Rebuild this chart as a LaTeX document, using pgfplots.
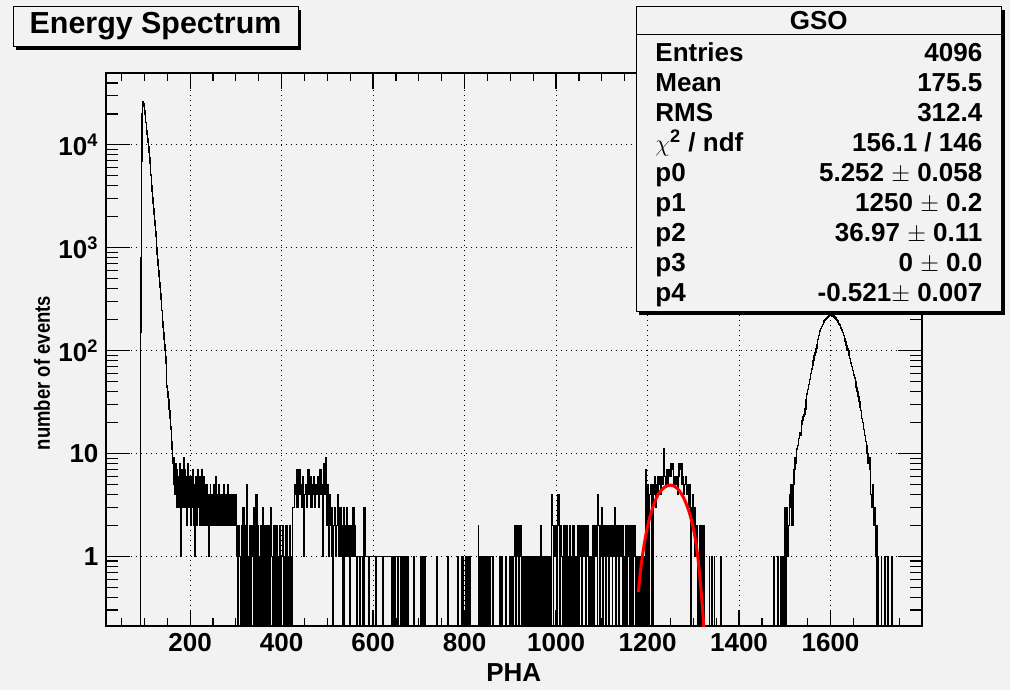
\documentclass[border=0pt]{standalone}
\usepackage{pgfplots}
\pgfplotsset{compat=1.18}
\usepackage{pgfplotstable}
\usepackage{graphicx}
\usepackage{fontspec}
\setmainfont{Liberation Sans}
\definecolor{bg}{RGB}{242,242,242}
\definecolor{rootred}{RGB}{255,0,0}
\newcommand\tf{\fontsize{13}{15}\selectfont\bfseries}

\pgfplotstableread[row sep=\\]{
x n\\
15 0\\ 91 40\\ 92 150\\ 93 800\\ 94 7000\\ 95 20000\\ 96 26000\\ 97 26500\\ 98 25000\\ 99 23500\\
100 21500\\ 101 19800\\ 102 18300\\ 103 16500\\ 104 15200\\ 105 13700\\ 106 12600\\ 107 11400\\ 108 10500\\ 109 9600\\
110 8500\\ 111 7500\\ 112 6600\\ 113 5800\\ 114 5100\\ 115 4500\\ 116 4000\\ 117 3500\\ 118 3100\\ 119 2700\\
120 2400\\ 121 2100\\ 122 1850\\ 123 1650\\ 124 1440\\ 125 1280\\ 126 1120\\ 127 990\\ 128 870\\ 129 770\\
130 680\\ 131 600\\ 132 525\\ 133 460\\ 134 410\\ 135 360\\ 136 315\\ 137 280\\ 138 245\\ 139 215\\
140 190\\ 141 168\\ 142 148\\ 143 130\\ 144 115\\ 145 101\\ 146 88\\ 147 75\\ 148 62\\ 149 44\\
150 46\\ 151 40\\ 152 35\\ 153 33\\ 154 27\\ 155 26\\ 156 22\\ 157 18\\ 158 17\\ 159 13\\
160 11\\ 161 9\\ 162 8\\ 163 6\\ 164 9\\ 165 5\\
166 7\\ 167 4\\ 168 8\\ 169 5\\ 170 6\\ 171 3\\ 172 7\\ 173 4\\ 174 6\\ 175 5\\ 176 3\\ 177 8\\ 178 4\\ 179 6\\ 180 1\\ 181 5\\ 182 7\\ 183 3\\ 184 6\\ 185 4\\
186 9\\ 187 5\\ 188 3\\ 189 7\\ 190 4\\ 191 6\\ 192 2\\ 193 5\\ 194 4\\ 195 8\\ 196 3\\ 197 5\\ 198 4\\ 199 6\\ 200 3\\
201 5\\ 202 2\\ 203 6\\ 204 4\\ 205 3\\ 206 7\\ 207 4\\ 208 2\\ 209 5\\ 210 1\\ 211 4\\ 212 6\\ 213 3\\ 214 5\\ 215 2\\ 216 7\\ 217 4\\ 218 3\\ 219 5\\ 220 2\\
221 6\\ 222 3\\ 223 4\\ 224 2\\ 225 7\\ 226 3\\ 227 5\\ 228 2\\ 229 4\\ 230 6\\ 231 3\\ 232 2\\ 233 5\\ 234 3\\ 235 4\\ 236 2\\ 237 5\\ 238 3\\ 239 2\\ 240 1\\
241 4\\ 242 2\\ 243 3\\ 244 5\\ 245 2\\ 246 4\\ 247 3\\ 248 2\\ 249 4\\ 250 2\\ 251 3\\ 252 5\\ 253 2\\ 254 3\\ 255 4\\ 256 2\\ 257 6\\ 258 3\\ 259 2\\ 260 4\\
261 3\\ 262 2\\ 263 5\\ 264 2\\ 265 3\\ 266 4\\ 267 2\\ 268 3\\ 269 2\\ 270 4\\ 271 3\\ 272 2\\ 273 5\\ 274 2\\ 275 3\\ 276 2\\ 277 4\\ 278 3\\ 279 2\\ 280 4\\
281 2\\ 282 3\\ 283 5\\ 284 2\\ 285 3\\ 286 2\\ 287 4\\ 288 2\\ 289 3\\ 290 2\\ 291 4\\ 292 3\\ 293 2\\ 294 3\\ 295 2\\ 296 4\\ 297 2\\ 298 3\\ 299 2\\ 300 4\\ 301 1\\
302 2\\ 304 0\\ 306 2\\ 308 1\\ 310 0\\ 312 2\\ 314 0\\ 316 3\\ 318 0\\ 320 2\\ 322 0\\ 324 5\\ 326 1\\ 328 0\\ 330 2\\ 332 0\\ 334 2\\ 336 1\\ 338 0\\ 340 3\\
342 0\\ 344 4\\ 346 0\\ 348 2\\ 350 1\\ 352 0\\ 354 2\\ 356 0\\ 358 3\\ 360 0\\ 362 2\\ 364 1\\ 366 0\\ 368 2\\ 370 0\\ 372 2\\ 374 0\\ 376 3\\ 378 1\\ 380 0\\
382 2\\ 384 0\\ 386 1\\ 388 2\\ 390 0\\ 392 1\\ 394 0\\ 396 2\\ 398 0\\ 400 1\\ 402 2\\ 404 0\\ 406 1\\ 408 0\\ 410 2\\ 412 0\\ 414 1\\ 416 0\\ 418 2\\ 420 1\\
422 0\\ 424 3\\
426 3\\ 428 5\\ 430 4\\ 432 7\\ 434 3\\ 436 6\\ 438 7\\ 440 4\\ 442 5\\ 444 3\\ 446 6\\ 448 1\\ 450 4\\ 452 5\\ 454 3\\ 456 6\\ 458 7\\ 460 4\\ 462 6\\ 464 3\\
466 5\\ 468 4\\ 470 6\\ 472 3\\ 474 5\\ 476 4\\ 478 6\\ 480 3\\ 482 5\\ 484 7\\ 486 4\\ 488 5\\ 490 1\\ 492 8\\ 494 4\\ 496 9\\ 498 2\\ 500 5\\ 502 1\\ 504 4\\ 506 2\\
508 3\\ 510 1\\ 512 0\\ 514 2\\ 516 3\\ 518 1\\ 520 2\\ 522 4\\ 524 1\\ 526 2\\ 528 3\\ 530 1\\ 532 2\\ 534 0\\ 536 3\\ 538 2\\ 540 1\\ 542 3\\ 544 1\\ 546 2\\
548 0\\ 550 1\\ 552 2\\ 554 1\\ 556 3\\ 558 1\\ 560 2\\ 562 1\\ 564 0\\
566 1\\ 570 0\\ 572 1\\ 578 0\\ 580 3\\ 582 1\\ 590 0\\ 592 1\\ 606 0\\ 608 1\\ 620 0\\ 622 1\\ 640 0\\ 642 1\\ 646 0\\ 648 1\\ 654 0\\ 656 1\\ 660 0\\ 661 1\\
663 0\\ 664 1\\ 666 0\\ 668 1\\ 670 0\\ 671 1\\ 673 0\\ 675 1\\ 677 0\\
689 1\\ 690 0\\ 704 1\\ 705 0\\ 708 1\\ 709 0\\ 711 1\\ 712 0\\ 713 1\\ 714 0\\ 739 1\\ 740 0\\ 764 1\\ 765 0\\
786 1\\ 787 0\\ 794 1\\ 795 0\\ 797 1\\ 798 0\\ 802 1\\ 803 0\\ 805 1\\ 806 0\\ 808 1\\ 809 0\\ 812 1\\ 813 0\\
830 2\\ 831 1\\ 833 0\\ 834 1\\ 836 0\\ 837 1\\ 840 0\\ 841 1\\ 843 0\\ 844 1\\ 847 0\\ 848 1\\ 850 0\\ 851 1\\ 853 0\\ 854 1\\ 856 0\\
861 1\\ 862 0\\ 877 1\\ 878 0\\ 881 1\\ 882 0\\ 890 1\\ 891 0\\ 898 1\\ 900 0\\ 901 1\\ 903 0\\ 904 1\\ 906 0\\ 907 1\\
910 2\\ 912 0\\ 913 2\\ 915 1\\ 916 2\\ 918 0\\ 919 2\\ 921 1\\ 923 2\\ 925 0\\ 926 1\\ 928 0\\ 929 1\\ 932 0\\ 933 1\\ 935 0\\ 936 1\\ 939 0\\ 940 1\\ 942 0\\
943 1\\ 946 0\\ 947 1\\ 949 0\\ 950 1\\ 953 0\\ 954 1\\ 956 0\\ 957 1\\ 959 0\\ 960 1\\ 962 0\\ 963 1\\ 965 0\\ 966 2\\ 967 0\\ 968 1\\ 970 0\\ 971 1\\ 973 0\\
974 1\\ 976 0\\ 977 1\\ 980 0\\ 981 1\\ 983 0\\ 984 1\\ 986 0\\ 987 1\\ 989 0\\ 990 2\\ 991 4\\ 992 2\\ 994 0\\ 995 2\\ 997 1\\ 999 2\\ 1001 0\\ 1003 4\\ 1004 2\\
1006 4\\ 1007 1\\ 1009 0\\ 1010 2\\ 1012 1\\ 1014 0\\ 1015 1\\ 1017 2\\ 1019 0\\ 1020 1\\ 1022 2\\ 1024 0\\ 1025 1\\ 1027 0\\ 1028 1\\ 1030 2\\ 1031 0\\ 1032 1\\ 1034 0\\ 1035 1\\
1037 2\\ 1039 0\\ 1040 1\\ 1042 0\\ 1043 1\\ 1045 0\\ 1046 1\\ 1048 2\\ 1050 0\\ 1051 2\\ 1053 1\\ 1055 2\\ 1057 0\\ 1058 2\\ 1060 1\\ 1062 2\\ 1064 0\\ 1065 2\\ 1067 1\\ 1069 2\\
1071 0\\ 1072 1\\ 1074 0\\ 1075 1\\ 1078 0\\ 1079 1\\ 1081 2\\ 1083 0\\ 1084 2\\ 1086 1\\ 1088 2\\ 1090 0\\ 1091 2\\ 1092 4\\ 1093 2\\ 1095 0\\ 1096 2\\ 1098 1\\ 1099 3\\ 1100 2\\
1102 0\\ 1103 2\\ 1105 1\\ 1107 2\\ 1109 0\\ 1110 2\\ 1112 1\\ 1114 2\\ 1116 0\\ 1117 2\\ 1119 1\\ 1121 2\\ 1123 0\\ 1124 2\\ 1126 1\\ 1128 3\\ 1129 2\\ 1131 0\\ 1132 2\\ 1134 1\\
1136 2\\ 1138 0\\ 1139 2\\ 1141 1\\ 1143 2\\ 1145 0\\ 1146 2\\ 1148 1\\ 1150 0\\ 1151 1\\ 1153 2\\ 1155 0\\ 1156 1\\ 1158 2\\ 1160 0\\ 1161 1\\ 1163 0\\ 1164 2\\ 1166 1\\ 1168 0\\
1169 2\\ 1171 1\\ 1173 2\\ 1174 0\\ 1175 1\\ 1177 0\\ 1178 1\\ 1180 0\\ 1181 1\\ 1183 0\\ 1184 1\\ 1186 0\\ 1187 1\\ 1189 0\\ 1190 1\\ 1192 0\\ 1193 1\\ 1195 0\\
1196 7\\ 1198 0\\ 1199 5\\ 1201 3\\ 1203 0\\ 1204 4\\ 1206 5\\ 1208 0\\ 1209 4\\ 1211 5\\ 1212 0\\ 1213 4\\ 1215 6\\ 1217 3\\ 1219 5\\ 1221 4\\ 1223 6\\ 1225 5\\ 1227 6\\ 1229 4\\
1231 6\\ 1233 5\\ 1235 11\\ 1237 6\\ 1239 5\\ 1241 7\\ 1243 5\\ 1245 6\\ 1247 7\\ 1249 6\\ 1251 8\\ 1253 7\\ 1255 8\\ 1257 5\\ 1259 6\\ 1261 5\\ 1263 6\\ 1265 4\\ 1267 6\\ 1269 8\\
1271 7\\ 1273 8\\ 1275 5\\ 1277 6\\ 1279 4\\ 1281 5\\ 1283 6\\ 1285 4\\ 1287 5\\ 1289 3\\ 1291 5\\ 1293 3\\ 1295 0\\ 1296 2\\ 1298 4\\ 1300 2\\ 1302 3\\ 1304 1\\ 1306 2\\ 1308 1\\
1310 0\\ 1311 1\\ 1313 2\\ 1315 0\\ 1317 2\\ 1319 1\\ 1321 0\\ 1323 2\\ 1324 0\\
1335 1\\ 1336 0\\ 1340 1\\ 1341 0\\ 1346 1\\ 1347 0\\ 1360 1\\ 1361 0\\
1476 1\\ 1477 0\\ 1485 1\\ 1486 0\\ 1490 1\\ 1491 0\\ 1494 1\\ 1495 0\\ 1498 1\\ 1499 0\\ 1500 3\\ 1502 0\\ 1503 3\\ 1505 1\\
1508 2\\ 1510 4\\ 1512 3\\ 1514 5\\ 1516 2\\ 1518 5\\ 1520 7\\ 1522 9\\ 1524 8\\ 1526 11\\ 1528 12\\ 1530 14\\ 1532 16\\ 1534 15\\ 1536 19\\ 1538 21\\ 1540 23\\ 1542 24\\ 1544 27\\ 1546 33\\
1548 38\\ 1550 42\\ 1552 47\\ 1554 52\\ 1556 60\\ 1558 66\\ 1560 72\\ 1562 80\\ 1564 90\\ 1566 96\\ 1568 105\\ 1570 115\\ 1572 128\\ 1574 140\\ 1576 155\\ 1578 163\\ 1580 172\\ 1582 180\\ 1584 188\\ 1586 196\\
1588 200\\ 1590 204\\ 1592 208\\ 1594 212\\ 1596 216\\ 1598 218\\ 1600 222\\ 1602 214\\ 1604 224\\ 1606 218\\ 1608 212\\ 1610 208\\ 1612 200\\ 1614 196\\ 1616 190\\ 1618 182\\ 1620 178\\ 1622 166\\ 1624 158\\ 1626 150\\
1628 140\\ 1630 130\\ 1632 122\\ 1634 112\\ 1636 104\\ 1638 100\\ 1640 90\\ 1642 84\\ 1644 76\\ 1646 70\\ 1648 64\\ 1650 58\\ 1652 54\\ 1654 50\\ 1656 44\\ 1658 40\\ 1660 36\\ 1662 32\\ 1664 28\\ 1666 26\\
1668 22\\ 1670 20\\ 1672 17\\ 1674 15\\ 1676 13\\ 1678 12\\ 1680 10\\ 1682 8\\ 1684 9\\ 1686 7\\ 1688 4\\ 1690 3\\ 1692 5\\ 1694 2\\ 1696 3\\ 1698 1\\ 1700 2\\ 1702 0\\
1704 1\\ 1705 0\\ 1711 1\\ 1712 0\\ 1719 1\\ 1720 0\\ 1726 1\\ 1727 0\\ 1733 1\\ 1734 0\\ 1800 0\\
}\hist

\pgfplotstableread[row sep=\\]{
x y\\
1180 0.45\\ 1185 0.75\\ 1190 1.10\\ 1195 1.50\\ 1200 1.95\\ 1205 2.40\\ 1210 2.85\\ 1215 3.30\\ 1220 3.75\\ 1225 4.10\\
1230 4.40\\ 1235 4.62\\ 1240 4.78\\ 1245 4.88\\ 1250 4.92\\ 1255 4.88\\ 1260 4.76\\ 1265 4.56\\ 1270 4.30\\ 1275 3.98\\
1280 3.62\\ 1285 3.20\\ 1290 2.78\\ 1295 2.33\\ 1300 1.88\\ 1305 1.42\\ 1310 0.98\\ 1315 0.58\\ 1320 0.32\\ 1325 0.15\\
}\fit

\begin{document}
\begin{tikzpicture}
\path[use as bounding box, fill=bg] (0,0) rectangle (505pt,345pt);
\begin{axis}[
  at={(52.75pt,32pt)}, anchor=south west,
  scale only axis, width=408.25pt, height=276.5pt,
  xmin=15, xmax=1800, ymode=log, ymin=0.21, ymax=50000,
  axis line style={line width=1pt},
  tick align=inside, tick pos=both,
  xtick={200,400,600,800,1000,1200,1400,1600},
  xticklabels={200,400,600,800,1000,1200,1400,1600},
  minor xtick={50,100,150,250,300,350,450,500,550,650,700,750,850,900,950,1050,1100,1150,1250,1300,1350,1450,1500,1550,1650,1700,1750},
  ytick={1,10,100,1000,10000},
  yticklabels={1,10,10\textsuperscript{2},10\textsuperscript{3},10\textsuperscript{4}},
  minor ytick={0.3,0.4,0.5,0.6,0.7,0.8,0.9,2,3,4,5,6,7,8,9,20,30,40,50,60,70,80,90,200,300,400,500,600,700,800,900,2000,3000,4000,5000,6000,7000,8000,9000,20000,30000,40000},
  grid=major,
  major grid style={line width=0.5pt, black, dash pattern=on 0.5pt off 2pt},
  xtick style={line width=0.6pt, black, /pgfplots/major tick length=8pt, /pgfplots/minor tick length=4pt},
  ytick style={line width=0.6pt, black, /pgfplots/major tick length=12pt, /pgfplots/minor tick length=6pt},
  ticklabel style={font=\tf},
  xlabel={PHA},
  xlabel style={at={(axis description cs:0.5,0)}, anchor=base, yshift=-27.85pt, font=\tf},
  ylabel={\scalebox{0.84}[1]{number of events}},
  ylabel style={at={(axis description cs:-0.068,0.4575)}, anchor=base, font=\fontsize{11}{13}\selectfont\bfseries},
]
\addplot[black, line width=0.7pt, const plot mark left, mark=none] table[x=x, y expr={max(\thisrow{n},0.05)}] {\hist};
\addplot[rootred, line width=1.5pt, smooth, mark=none] table[x=x, y=y] {\fit};
\end{axis}
% title box
\fill[black] (8.15pt,320pt) rectangle (150.65pt,340pt);
\filldraw[fill=bg, draw=black, line width=0.5pt] (6.65pt,321.5pt) rectangle (149.15pt,341.5pt);
\node[anchor=base west, inner sep=0pt] at (14.65pt,328.35pt) {\fontsize{15.2}{18}\selectfont\bfseries Energy Spectrum};
% stats box
\fill[black] (319.5pt,187.65pt) rectangle (502.35pt,340.15pt);
\filldraw[fill=bg, draw=black, line width=0.5pt] (318pt,189.15pt) rectangle (500.85pt,341.65pt);
\draw[black, line width=0.5pt] (318pt,327.5pt) -- (500.85pt,327.5pt);
\node[anchor=base, inner sep=0pt] at (409.4pt,330.35pt) {\tf GSO};
\foreach \lab/\val [count=\i from 0] in {
  Entries/4096,
  Mean/175.5,
  RMS/312.4,
  {{\mdseries$\chi$}\textsuperscript{2} / ndf}/{156.1 / 146},
  p0/{5.252 $\pm$ 0.058},
  p1/{1250 $\pm$ 0.2},
  p2/{36.97 $\pm$ 0.11},
  p3/{0 $\pm$ 0.0},
  p4/{-0.521$\pm$ 0.007}} {
  \node[anchor=base west, inner sep=0pt] at (327.5pt,{314.15pt-15pt*\i}) {\tf \lab};
  \node[anchor=base east, inner sep=0pt] at (491.35pt,{314.15pt-15pt*\i}) {\tf \val};
}
\end{tikzpicture}
\end{document}
